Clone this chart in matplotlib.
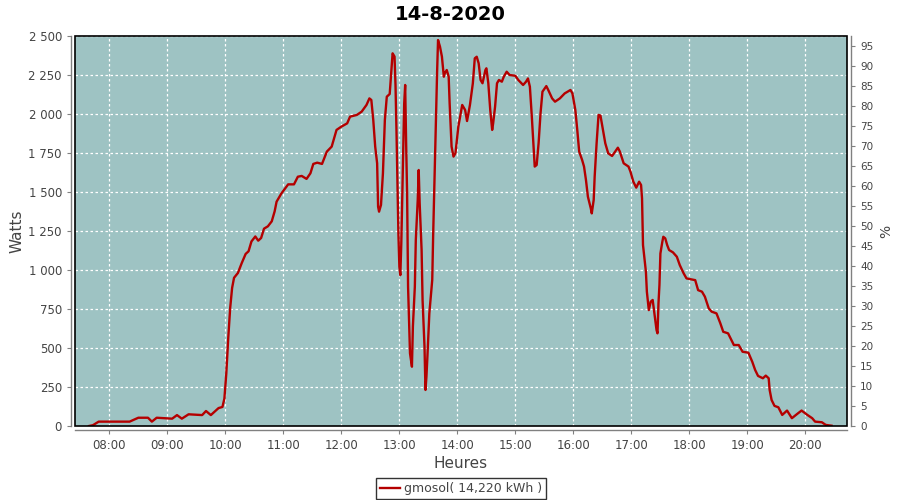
import matplotlib
matplotlib.use("Agg")
import matplotlib.pyplot as plt
from matplotlib.ticker import FixedLocator, FuncFormatter
from matplotlib.patches import Rectangle

title = "14-8-2020"
series_label = "gmosol( 14,220 kWh )"

times = ["07:39", "07:43", "07:49", "08:21", "08:30", "08:40", "08:44", "08:49", "09:05", "09:10",
         "09:15", "09:22", "09:36", "09:40", "09:45", "09:53", "09:57", "09:59", "10:01", "10:03",
         "10:05", "10:07", "10:09", "10:13", "10:17", "10:21", "10:24", "10:27", "10:31", "10:34",
         "10:37", "10:40", "10:44", "10:48", "10:51", "10:53", "10:58", "11:05", "11:11", "11:15",
         "11:19", "11:24", "11:28", "11:31", "11:35", "11:40", "11:45", "11:50", "11:55", "12:00",
         "12:06", "12:09", "12:16", "12:21", "12:26", "12:29", "12:31", "12:33", "12:35", "12:37",
         "12:38", "12:39", "12:41", "12:43", "12:45", "12:47", "12:50", "12:52", "12:53", "12:55",
         "12:56", "12:57", "12:58", "12:59", "13:00", "13:01", "13:02", "13:04", "13:05", "13:06",
         "13:07", "13:08", "13:09", "13:11", "13:13", "13:14", "13:16", "13:17", "13:19", "13:20",
         "13:21", "13:23", "13:24", "13:26", "13:27", "13:28", "13:29", "13:31", "13:34", "13:35",
         "13:37", "13:39", "13:40", "13:42", "13:44", "13:46", "13:47", "13:49", "13:51", "13:52",
         "13:54", "13:56", "13:58", "14:01", "14:05", "14:08", "14:10", "14:13", "14:16", "14:18",
         "14:20", "14:22", "14:24", "14:26", "14:29", "14:30", "14:32", "14:34", "14:36", "14:37",
         "14:39", "14:41", "14:43", "14:46", "14:48", "14:51", "14:54", "15:00", "15:03", "15:08",
         "15:11", "15:13", "15:15", "15:17", "15:19", "15:20", "15:22", "15:24", "15:26", "15:28",
         "15:32", "15:34", "15:38", "15:41", "15:46", "15:51", "15:57", "15:59", "16:02", "16:04",
         "16:06", "16:09", "16:11", "16:13", "16:15", "16:18", "16:19", "16:21", "16:22", "16:24",
         "16:26", "16:28", "16:30", "16:33", "16:36", "16:40", "16:42", "16:46", "16:48", "16:52",
         "16:57", "16:59", "17:02", "17:05", "17:08", "17:10", "17:11", "17:12", "17:15", "17:16",
         "17:18", "17:20", "17:22", "17:24", "17:26", "17:27", "17:28", "17:29", "17:30", "17:32",
         "17:33", "17:35", "17:37", "17:39", "17:43", "17:47", "17:50", "17:54", "17:57", "18:02",
         "18:06", "18:09", "18:13", "18:16", "18:20", "18:23", "18:28", "18:32", "18:35", "18:40",
         "18:46", "18:51", "18:55", "19:01", "19:05", "19:08", "19:11", "19:16", "19:19", "19:22",
         "19:23", "19:25", "19:28", "19:32", "19:36", "19:41", "19:46", "19:51", "19:56", "20:02",
         "20:07", "20:10", "20:17", "20:21", "20:27"]

watts = [0, 5, 28, 28, 53, 53, 28, 53, 47, 70,
         47, 75, 70, 96, 70, 115, 122, 175, 337, 564,
         756, 885, 950, 981, 1045, 1103, 1120, 1183, 1215, 1188,
         1205, 1265, 1280, 1312, 1376, 1438, 1491, 1549, 1549, 1598,
         1603, 1584, 1620, 1680, 1688, 1680, 1759, 1791, 1898, 1919,
         1940, 1983, 1994, 2015, 2058, 2100, 2090, 1962, 1791, 1684,
         1406, 1374, 1417, 1620, 1962, 2111, 2128, 2303, 2389, 2368,
         2186, 1898, 1556, 1235, 1021, 967, 1170, 1791, 2068, 2186,
         1812, 1491, 893, 466, 380, 640, 893, 1192, 1449, 1641,
         1427, 1128, 808, 509, 231, 316, 444, 722, 936, 1235,
         1748, 2261, 2474, 2432, 2368, 2239, 2261, 2282, 2239, 2068,
         1791, 1727, 1748, 1919, 2058, 2026, 1955, 2058, 2197, 2357,
         2367, 2325, 2218, 2197, 2282, 2293, 2197, 2026, 1898, 1940,
         2047, 2197, 2218, 2207, 2239, 2271, 2250, 2245, 2218, 2186,
         2207, 2228, 2175, 1983, 1770, 1663, 1673, 1812, 2004, 2143,
         2179, 2154, 2100, 2079, 2100, 2132, 2154, 2132, 2026, 1898,
         1759, 1706, 1663, 1577, 1470, 1395, 1363, 1449, 1598, 1812,
         1994, 1990, 1919, 1812, 1748, 1731, 1748, 1784, 1760, 1684,
         1663, 1631, 1566, 1528, 1566, 1545, 1459, 1160, 989, 861,
         743, 797, 808, 711, 615, 594, 786, 903, 1106, 1181,
         1213, 1203, 1160, 1128, 1113, 1085, 1032, 979, 946, 940,
         935, 871, 861, 829, 754, 733, 722, 658, 604, 594,
         519, 519, 476, 470, 412, 359, 321, 306, 323, 306,
         231, 167, 129, 120, 71, 99, 50, 75, 99, 71,
         50, 28, 24, 7, 2]

hour_ticks = ["08:00", "09:00", "10:00", "11:00", "12:00", "13:00", "14:00",
              "15:00", "16:00", "17:00", "18:00", "19:00", "20:00"]
watt_ticks = [0, 250, 500, 750, 1000, 1250, 1500, 1750, 2000, 2250, 2500]
pct_ticks = list(range(0, 100, 5))


def to_h(s):
    h, m = s.split(":")
    return int(h) + int(m) / 60.0


x = [to_h(t) for t in times]

plt.rcParams['font.family'] = ['DejaVu Sans']
fig = plt.figure(figsize=(9, 5), dpi=100)
ax = fig.add_axes([75 / 900, 1 - 426 / 500, (847 - 75) / 900, (426 - 36) / 500])
ax.set_facecolor("#9EC3C3")

ax.plot(x, watts, color="#B40000", lw=1.7, label=series_label, zorder=3)

ax.set_xlim(to_h("07:24") + 0.5 / 60, to_h("20:43"))
ax.set_ylim(0, 2500)

ax.xaxis.set_major_locator(FixedLocator([to_h(t) for t in hour_ticks]))
ax.set_xticklabels(hour_ticks)
ax.yaxis.set_major_locator(FixedLocator(watt_ticks))
ax.yaxis.set_major_formatter(FuncFormatter(lambda v, p: f"{int(v):,}".replace(",", " ")))

ax.grid(True, color="white", linestyle=(0, (2, 2)), linewidth=0.9)
ax.set_axisbelow(True)

tick_color = "#444444"
axis_gray = "#808080"
ax.tick_params(axis="both", labelsize=8.5, colors=axis_gray, labelcolor=tick_color,
               length=3, width=0.8, direction="out")

# black plot frame
frame = Rectangle((0, 0), 1, 1, transform=ax.transAxes, fill=False,
                  edgecolor="black", linewidth=1.2, zorder=5, clip_on=False)
ax.add_patch(frame)

off = 2.9  # points (about 4 px)
for name, s in ax.spines.items():
    if name in ("left", "bottom"):
        s.set_position(("outward", off))
        s.set_color(axis_gray)
        s.set_linewidth(1.0)
    else:
        s.set_visible(False)

ax.set_ylabel("Watts", fontsize=11, color=tick_color, labelpad=3)
ax.set_xlabel("Heures", fontsize=11, color=tick_color, labelpad=3)

ax2 = ax.twinx()
ax2.set_ylim(0, 97.5)
ax2.yaxis.set_major_locator(FixedLocator(pct_ticks))
ax2.tick_params(axis="y", labelsize=7.5, colors=axis_gray, labelcolor=tick_color,
                length=3, width=0.8, direction="out")
ax2.set_ylabel("%", fontsize=10, color=tick_color, labelpad=4)
for name, s in ax2.spines.items():
    if name == "right":
        s.set_position(("outward", off))
        s.set_color(axis_gray)
        s.set_linewidth(1.0)
    else:
        s.set_visible(False)

fig.text(0.5, 1 - 15 / 500, title, ha="center", va="center", fontsize=14, fontweight="bold")

leg = ax.legend(loc="upper center", bbox_to_anchor=(0.5, -0.118), frameon=True, fancybox=False,
                fontsize=9, handlelength=1.6, handletextpad=0.3, borderpad=0.3,
                edgecolor="black", labelcolor=tick_color)
leg.get_frame().set_linewidth(1.0)

fig.savefig("out.png", dpi=100)
